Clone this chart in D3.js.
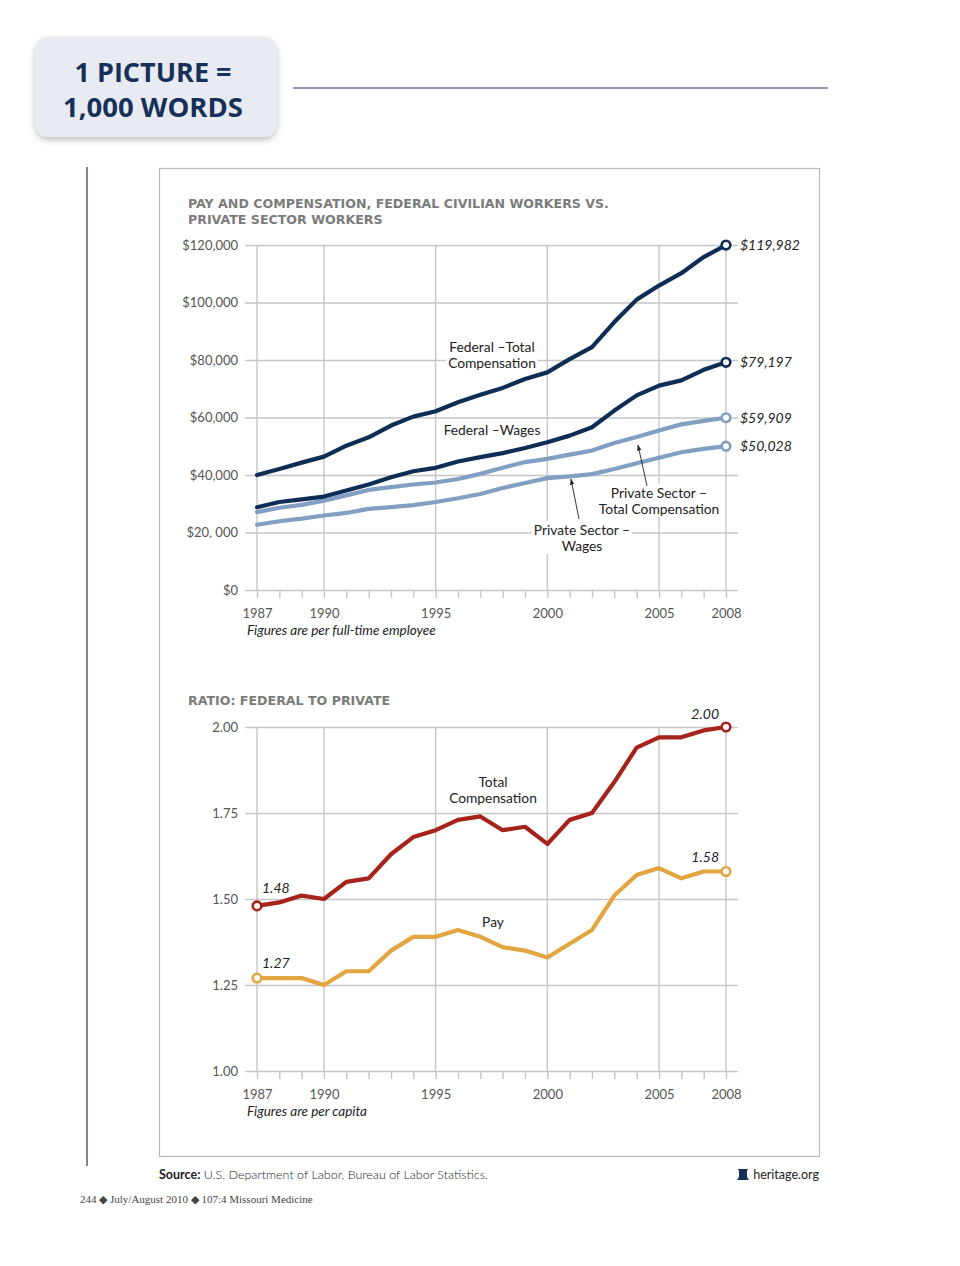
<!DOCTYPE html>
<html>
<head>
<meta charset="utf-8">
<script src="https://cdn.jsdelivr.net/npm/d3@7"></script>
<style>
  body { margin: 0; background: #fff; }
  svg { display: block; }
  .lbl { font-family: Lato, "Open Sans", sans-serif; fill: #222; }
  .tick text { font-family: Lato, sans-serif; fill: #555; }
  .ttl { font-family: "DejaVu Sans", sans-serif; font-weight: bold; fill: #7b7b7b; }
</style>
</head>
<body>
<svg id="page" width="960" height="1266"></svg>
<script>
// ---- data ----
const years = d3.range(1987, 2009);
const labeledYears = [1987, 1990, 1995, 2000, 2005, 2008];

const fedTotal   = [40000, 42100, 44300, 46400, 50200, 53100, 57200, 60300, 62200, 65300, 67900,
                    70300, 73400, 75700, 80300, 84500, 93200, 101000, 105900, 110200, 115800, 119982];
const fedWages   = [28800, 30600, 31500, 32500, 34600, 36700, 39200, 41300, 42500, 44700, 46200,
                    47600, 49400, 51400, 53700, 56600, 62400, 67700, 71100, 72900, 76600, 79197];
const privTotal  = [27100, 28600, 29600, 31100, 32900, 34800, 35800, 36700, 37400, 38600, 40400,
                    42500, 44500, 45600, 47100, 48500, 51100, 53200, 55500, 57600, 58800, 59909];
const privWages  = [22700, 23900, 24800, 25900, 26800, 28200, 28800, 29500, 30600, 31900, 33400,
                    35500, 37200, 38900, 39500, 40300, 42100, 44100, 46000, 47900, 49100, 50028];

const ratioTotal = [1.48, 1.49, 1.51, 1.50, 1.55, 1.56, 1.63, 1.68, 1.70, 1.73, 1.74,
                    1.70, 1.71, 1.66, 1.73, 1.75, 1.84, 1.94, 1.97, 1.97, 1.99, 2.00];
const ratioPay   = [1.27, 1.27, 1.27, 1.25, 1.29, 1.29, 1.35, 1.39, 1.39, 1.41, 1.39,
                    1.36, 1.35, 1.33, 1.37, 1.41, 1.51, 1.57, 1.59, 1.56, 1.58, 1.58];

const dollarTicks = [0, 20000, 40000, 60000, 80000, 100000, 120000];
const ratioTicks  = [1.00, 1.25, 1.50, 1.75, 2.00];

const navy = "#0e2d55", steel = "#819fc3", red = "#a5231b", gold = "#e2a53f";

const svg = d3.select("#page");

// ---- page furniture ----
const defs = svg.append("defs");
const sh = defs.append("filter").attr("id", "shadow").attr("x", "-20%").attr("y", "-20%")
  .attr("width", "140%").attr("height", "150%");
sh.append("feDropShadow").attr("dx", 0).attr("dy", 3).attr("stdDeviation", 3)
  .attr("flood-color", "#000").attr("flood-opacity", 0.25);

svg.append("rect").attr("x", 35).attr("y", 37).attr("width", 242).attr("height", 100)
  .attr("rx", 14).attr("fill", "#e8ebf1").attr("filter", "url(#shadow)");
svg.append("text").attr("x", 153).attr("y", 82).attr("text-anchor", "middle")
  .style("font-family", "'Open Sans', sans-serif").style("font-weight", 700)
  .style("font-size", "27px").attr("fill", "#17305a").text("1 PICTURE =");
svg.append("text").attr("x", 153).attr("y", 117).attr("text-anchor", "middle")
  .style("font-family", "'Open Sans', sans-serif").style("font-weight", 700)
  .style("font-size", "27.5px").attr("fill", "#17305a").text("1,000 WORDS");

svg.append("line").attr("x1", 293).attr("x2", 828).attr("y1", 88).attr("y2", 88)
  .attr("stroke", "#1f3560").attr("stroke-width", 1.2);
svg.append("line").attr("x1", 87).attr("x2", 87).attr("y1", 167).attr("y2", 1166)
  .attr("stroke", "#1f3560").attr("stroke-width", 1.2);
svg.append("rect").attr("x", 159.5).attr("y", 168.5).attr("width", 660).attr("height", 988)
  .attr("fill", "none").attr("stroke", "#b9b9b9").attr("stroke-width", 1.2);

// ---- shared x scale ----
const x = d3.scaleLinear().domain([1987, 2008]).range([257, 726]);
const gridLeft = 245, gridRight = 738;

function panel(cfg) {
  const g = svg.append("g");
  const y = d3.scaleLinear().domain(cfg.domain).range(cfg.range);

  g.append("text").attr("class", "ttl").style("font-size", "12.6px")
    .selectAll("tspan").data(cfg.title).join("tspan")
    .attr("x", 188).attr("y", (d, i) => cfg.titleY + i * 16).text(d => d);

  // horizontal grid + y labels
  g.append("g").attr("transform", `translate(${gridLeft},0)`)
    .call(d3.axisLeft(y).tickValues(cfg.ticks).tickSize(-(gridRight - gridLeft))
      .tickPadding(7).tickFormat(cfg.fmt))
    .call(a => a.select(".domain").remove())
    .call(a => a.selectAll(".tick line").attr("stroke", "#c6c6c6").attr("stroke-width", 1.4))
    .call(a => a.selectAll(".tick text").style("font-size", "13px"));

  // vertical grid
  g.selectAll(".vgrid").data(labeledYears).join("line")
    .attr("x1", d => x(d)).attr("x2", d => x(d))
    .attr("y1", cfg.range[1]).attr("y2", cfg.range[0])
    .attr("stroke", "#c6c6c6").attr("stroke-width", 1.4);

  // x axis: ticks every year, labels on some
  g.append("g").attr("transform", `translate(0,${cfg.range[0]})`)
    .call(d3.axisBottom(x).tickValues(years).tickSize(8).tickPadding(11)
      .tickFormat(d => labeledYears.includes(d) ? d : ""))
    .call(a => a.select(".domain").remove())
    .call(a => a.selectAll(".tick line").attr("stroke", "#c6c6c6").attr("stroke-width", 1.4))
    .call(a => a.selectAll(".tick text").style("font-size", "13px"));

  g.append("text").attr("class", "lbl").attr("x", 247).attr("y", cfg.range[0] + 45)
    .style("font-size", "13.5px").style("font-style", "italic").text(cfg.note);

  // label backgrounds and labels
  cfg.labels.forEach(l => {
    const t = g.append("text").attr("class", "lbl").attr("text-anchor", "middle")
      .style("font-size", "13.8px");
    t.selectAll("tspan").data(l.lines).join("tspan")
      .attr("x", l.x).attr("y", (d, i) => l.y + i * 16).text(d => d);
    const bb = t.node().getBBox();
    g.insert("rect", () => t.node()).attr("x", bb.x - 2).attr("y", bb.y)
      .attr("width", bb.width + 4).attr("height", bb.height).attr("fill", "#fff");
  });

  const line = d3.line().x((d, i) => x(years[i])).y(d => y(d));
  cfg.series.forEach(s => {
    g.append("path").datum(s.values).attr("d", line).attr("fill", "none")
      .attr("stroke", s.color).attr("stroke-width", 4.2)
      .attr("stroke-linejoin", "round").attr("stroke-linecap", "round");
  });
  cfg.series.forEach(s => {
    (s.dots || []).forEach(i => {
      g.append("circle").attr("cx", x(years[i])).attr("cy", y(s.values[i])).attr("r", 4.3)
        .attr("fill", "#fff").attr("stroke", s.color).attr("stroke-width", 2.6);
    });
    (s.ends || []).forEach(e => {
      g.append("text").attr("class", "lbl").style("font-style", "italic").style("font-size", "14px")
        .attr("x", x(years[e.i]) + e.dx).attr("y", y(s.values[e.i]) + e.dy)
        .attr("text-anchor", e.anchor || "start").text(e.text);
    });
  });

  (cfg.arrows || []).forEach(a => {
    g.append("line").attr("x1", a[0]).attr("y1", a[1]).attr("x2", a[2]).attr("y2", a[3])
      .attr("stroke", "#222").attr("stroke-width", 0.9).attr("marker-end", "url(#arrow)");
  });
  return y;
}

defs.append("marker").attr("id", "arrow").attr("viewBox", "0 0 10 10").attr("refX", 9).attr("refY", 5)
  .attr("markerWidth", 7).attr("markerHeight", 7).attr("orient", "auto")
  .append("path").attr("d", "M0,1.5 L10,5 L0,8.5 z").attr("fill", "#222");

const money = d => "$" + d3.format(",")(d);
const last = years.length - 1;

panel({
  title: ["PAY AND COMPENSATION, FEDERAL CIVILIAN WORKERS VS.", "PRIVATE SECTOR WORKERS"],
  titleY: 208,
  domain: [0, 120000], range: [590, 245], ticks: dollarTicks,
  fmt: d => d === 20000 ? "$20, 000" : money(d),
  note: "Figures are per full-time employee",
  labels: [
    { x: 492, y: 352, lines: ["Federal \u2013Total", "Compensation"] },
    { x: 492, y: 435, lines: ["Federal \u2013Wages"] },
    { x: 659, y: 498, lines: ["Private Sector \u2013", "Total Compensation"] },
    { x: 582, y: 535, lines: ["Private Sector \u2013", "Wages"] }
  ],
  series: [
    { values: privWages, color: steel, dots: [last], ends: [{ i: last, dx: 14, dy: 5, text: "$50,028" }] },
    { values: privTotal, color: steel, dots: [last], ends: [{ i: last, dx: 14, dy: 5, text: "$59,909" }] },
    { values: fedWages, color: navy, dots: [last], ends: [{ i: last, dx: 14, dy: 5, text: "$79,197" }] },
    { values: fedTotal, color: navy, dots: [last], ends: [{ i: last, dx: 14, dy: 5, text: "$119,982" }] }
  ],
  arrows: [[647, 486, 638, 445], [579, 519, 571, 479]]
});

panel({
  title: ["RATIO: FEDERAL TO PRIVATE"],
  titleY: 705,
  domain: [1, 2], range: [1071, 727], ticks: ratioTicks,
  fmt: d3.format(".2f"),
  note: "Figures are per capita",
  labels: [
    { x: 493, y: 787, lines: ["Total", "Compensation"] },
    { x: 493, y: 927, lines: ["Pay"] }
  ],
  series: [
    { values: ratioPay, color: gold, dots: [0, last],
      ends: [{ i: 0, dx: 5, dy: -10, text: "1.27" }, { i: last, dx: -7, dy: -9, anchor: "end", text: "1.58" }] },
    { values: ratioTotal, color: red, dots: [0, last],
      ends: [{ i: 0, dx: 5, dy: -13, text: "1.48" }, { i: last, dx: -7, dy: -8, anchor: "end", text: "2.00" }] }
  ]
});

// ---- footer ----
const src = svg.append("text").attr("class", "lbl").attr("x", 159).attr("y", 1179)
  .style("font-size", "12.5px").attr("fill", "#333");
src.append("tspan").style("font-weight", 700).text("Source:");
src.append("tspan").style("font-weight", 300).text(" U.S. Department of Labor, Bureau of Labor Statistics.");

const bell = svg.append("g").attr("transform", "translate(743,1175)").attr("fill", "#17305a");
bell.append("path").attr("d", "M-5,-6 L5,-6 L4,-4 L4,2 L6,5 L-6,5 L-4,2 L-4,-4 Z");
svg.append("text").attr("class", "lbl").attr("x", 819).attr("y", 1179).attr("text-anchor", "end")
  .style("font-size", "12.5px").attr("fill", "#17305a").text("heritage.org");

svg.append("text").attr("x", 80).attr("y", 1203)
  .style("font-family", "'Liberation Serif', serif").style("font-size", "11px").attr("fill", "#444")
  .text("244 \u25C6 July/August 2010 \u25C6 107:4 Missouri Medicine");
</script>
</body>
</html>
